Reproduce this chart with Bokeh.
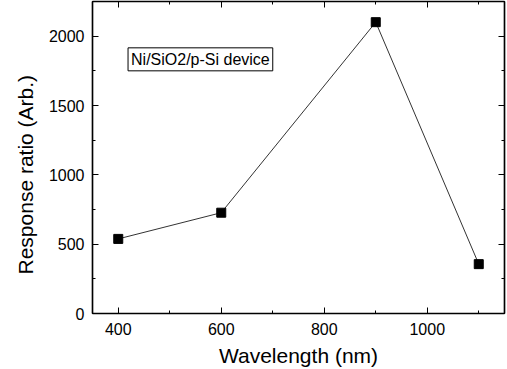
from bokeh.plotting import figure
from bokeh.models import Range1d, LinearAxis, Label, FixedTicker, CustomJSTickFormatter, Title
from bokeh.embed import file_html
from bokeh.resources import INLINE

wavelength = [400, 600, 900, 1100]
response = [538, 727, 2101, 356]
x_ticks = [400, 600, 800, 1000]
y_ticks = [0, 500, 1000, 1500, 2000]
annotation_text = "Ni/SiO2/p-Si device"
x_title = "Wavelength (nm)"
y_title = "Response ratio (Arb.)"

FONT = "Liberation Sans"

p = figure(width=507, height=369, output_backend="svg", toolbar_location=None,
           x_range=Range1d(350, 1150), y_range=Range1d(0, 2250),
           min_border_left=92, min_border_right=3, min_border_top=1, min_border_bottom=40)
p.xgrid.visible = False
p.ygrid.visible = False
p.outline_line_color = "black"
p.outline_line_width = 1.2
p.background_fill_color = "white"
p.border_fill_color = "white"

def style(ax, ticks, minor, show_labels=True):
    ax.ticker = FixedTicker(ticks=ticks, minor_ticks=minor)
    ax.major_tick_in = 6
    ax.major_tick_out = 0
    ax.minor_tick_in = 3
    ax.minor_tick_out = 0
    ax.axis_line_color = "black"
    ax.axis_line_width = 1.5
    ax.major_tick_line_color = "black"
    ax.minor_tick_line_color = "black"
    ax.major_label_text_font = FONT
    ax.major_label_text_font_size = "16px"
    ax.major_label_text_color = "black"
    ax.major_label_standoff = 9
    ax.axis_label_text_font = FONT
    ax.axis_label_text_font_size = "21px"
    ax.axis_label_text_font_style = "normal"
    ax.axis_label_text_color = "black"
    ax.axis_label_standoff = 6
    if not show_labels:
        ax.formatter = CustomJSTickFormatter(code="return ''")
        ax.major_label_standoff = 0

x_minor = [500, 700, 900, 1100]
y_minor = [250, 750, 1250, 1750, 2250]

style(p.xaxis[0], x_ticks, x_minor)
style(p.yaxis[0], y_ticks, y_minor)
p.xaxis[0].axis_label = x_title
p.yaxis[0].major_label_standoff = 8

top = LinearAxis()
style(top, x_ticks, x_minor, show_labels=False)
p.add_layout(top, "above")
right = LinearAxis()
style(right, y_ticks, y_minor, show_labels=False)
p.add_layout(right, "right")

p.line(wavelength, response, line_color="#333333", line_width=1)
p.scatter(wavelength, response, marker="square", size=9, fill_color="black", line_color="black")

ytitle = Title(text=y_title, align="left", offset=39, standoff=18,
               text_font=FONT, text_font_size="21px", text_font_style="normal",
               text_color="black")
p.add_layout(ytitle, "left")

lab = Label(x=419, y=1750, text=annotation_text, text_font=FONT, text_font_size="16px",
            text_color="black", border_line_color="black", border_line_width=1,
            background_fill_color="white", padding=3)
p.add_layout(lab)

open("out.html", "w").write(file_html(p, INLINE))
